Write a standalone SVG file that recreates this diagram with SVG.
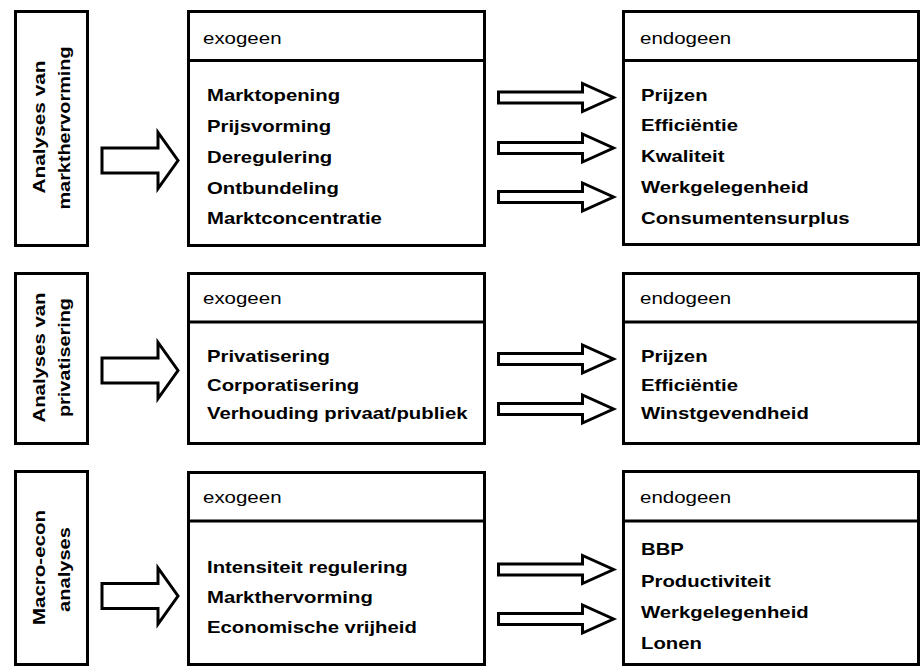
<svg xmlns="http://www.w3.org/2000/svg" width="923" height="668" viewBox="0 0 923 668">
<style>
.box{fill:#fff;stroke:#000;stroke-width:3}
.div{stroke:#000;stroke-width:3}
.arr{fill:#fff;stroke:#000;stroke-width:3;stroke-linejoin:miter}
.h{font-family:"Liberation Sans",Arial,Helvetica,sans-serif;font-size:16px;fill:#000}
.b{font-family:"Liberation Sans",Arial,Helvetica,sans-serif;font-size:16px;font-weight:bold;fill:#000}
.v{font-family:"Liberation Sans",Arial,Helvetica,sans-serif;font-size:17px;font-weight:bold;fill:#000;text-anchor:middle}
</style>
<rect width="923" height="668" fill="#fff"/>

<!-- Row 1 -->
<g id="row1-label">
<rect class="box" x="15.5" y="11.5" width="72" height="234"/>
<text class="v" transform="translate(45,127) rotate(-90)" textLength="133" lengthAdjust="spacingAndGlyphs">Analyses van</text>
<text class="v" transform="translate(70,128) rotate(-90)" textLength="163" lengthAdjust="spacingAndGlyphs">markthervorming</text>
</g>
<g id="row1-exo">
<rect class="box" x="188.5" y="11.5" width="296" height="234"/>
<line class="div" x1="188.5" y1="60.5" x2="484.5" y2="60.5"/>
<text class="h" transform="translate(203,43.5) scale(1.28,1)">exogeen</text>
<text class="b" transform="translate(207,100.5) scale(1.27,1)">Marktopening</text>
<text class="b" transform="translate(207,131.5) scale(1.27,1)">Prijsvorming</text>
<text class="b" transform="translate(207,162.5) scale(1.27,1)">Deregulering</text>
<text class="b" transform="translate(207,193.5) scale(1.27,1)">Ontbundeling</text>
<text class="b" transform="translate(207,224) scale(1.27,1)">Marktconcentratie</text>
</g>
<g id="row1-endo">
<rect class="box" x="623.5" y="11.5" width="295" height="233"/>
<line class="div" x1="623.5" y1="60.5" x2="918.5" y2="60.5"/>
<text class="h" transform="translate(640,43.5) scale(1.28,1)">endogeen</text>
<text class="b" transform="translate(641,100.5) scale(1.27,1)">Prijzen</text>
<text class="b" transform="translate(641,131) scale(1.27,1)">Efficiëntie</text>
<text class="b" transform="translate(641,162) scale(1.27,1)">Kwaliteit</text>
<text class="b" transform="translate(641,193) scale(1.27,1)">Werkgelegenheid</text>
<text class="b" transform="translate(641,223.5) scale(1.27,1)">Consumentensurplus</text>
</g>

<!-- Row 2 -->
<g id="row2-label">
<rect class="box" x="15.5" y="273.5" width="72" height="170"/>
<text class="v" transform="translate(45,357.5) rotate(-90)" textLength="130" lengthAdjust="spacingAndGlyphs">Analyses van</text>
<text class="v" transform="translate(70,357.5) rotate(-90)" textLength="119" lengthAdjust="spacingAndGlyphs">privatisering</text>
</g>
<g id="row2-exo">
<rect class="box" x="188.5" y="273.5" width="296" height="170"/>
<line class="div" x1="188.5" y1="322" x2="484.5" y2="322"/>
<text class="h" transform="translate(203,303.5) scale(1.28,1)">exogeen</text>
<text class="b" transform="translate(207,362) scale(1.27,1)">Privatisering</text>
<text class="b" transform="translate(207,390.5) scale(1.27,1)">Corporatisering</text>
<text class="b" transform="translate(207,419) scale(1.27,1)">Verhouding privaat/publiek</text>
</g>
<g id="row2-endo">
<rect class="box" x="623.5" y="273.5" width="295" height="170"/>
<line class="div" x1="623.5" y1="322" x2="918.5" y2="322"/>
<text class="h" transform="translate(640,303.5) scale(1.28,1)">endogeen</text>
<text class="b" transform="translate(641,362) scale(1.27,1)">Prijzen</text>
<text class="b" transform="translate(641,390.5) scale(1.27,1)">Efficiëntie</text>
<text class="b" transform="translate(641,419) scale(1.27,1)">Winstgevendheid</text>
</g>

<!-- Row 3 -->
<g id="row3-label">
<rect class="box" x="15.5" y="471.5" width="72" height="193"/>
<text class="v" transform="translate(45,567.5) rotate(-90)" textLength="115" lengthAdjust="spacingAndGlyphs">Macro-econ</text>
<text class="v" transform="translate(70,569.5) rotate(-90)" textLength="85" lengthAdjust="spacingAndGlyphs">analyses</text>
</g>
<g id="row3-exo">
<rect class="box" x="188.5" y="472.5" width="296" height="192"/>
<line class="div" x1="188.5" y1="521" x2="484.5" y2="521"/>
<text class="h" transform="translate(203,503) scale(1.28,1)">exogeen</text>
<text class="b" transform="translate(207,573) scale(1.27,1)">Intensiteit regulering</text>
<text class="b" transform="translate(207,603) scale(1.27,1)">Markthervorming</text>
<text class="b" transform="translate(207,633) scale(1.27,1)">Economische vrijheid</text>
</g>
<g id="row3-endo">
<rect class="box" x="623.5" y="471.5" width="295" height="193"/>
<line class="div" x1="623.5" y1="521" x2="918.5" y2="521"/>
<text class="h" transform="translate(640,503) scale(1.28,1)">endogeen</text>
<text class="b" transform="translate(641,555) scale(1.27,1)">BBP</text>
<text class="b" transform="translate(641,586.5) scale(1.27,1)">Productiviteit</text>
<text class="b" transform="translate(641,618) scale(1.27,1)">Werkgelegenheid</text>
<text class="b" transform="translate(641,649) scale(1.27,1)">Lonen</text>
</g>

<!-- Connectors -->
<defs>
<polygon id="bigArrow" points="0,-12.5 56,-12.5 56,-28 76,0 56,28 56,12.5 0,12.5"/>
<polygon id="smallArrow" points="0,-5.5 84,-5.5 84,-14 115,0 84,14 84,5.5 0,5.5"/>
</defs>
<g id="connectors">
<use href="#bigArrow" class="arr" x="102" y="160.5"/>
<use href="#bigArrow" class="arr" x="102" y="370.5"/>
<use href="#bigArrow" class="arr" x="102" y="596"/>
<use href="#smallArrow" class="arr" x="498.5" y="97.5"/>
<use href="#smallArrow" class="arr" x="498.5" y="148"/>
<use href="#smallArrow" class="arr" x="498.5" y="197"/>
<use href="#smallArrow" class="arr" x="498.5" y="359"/>
<use href="#smallArrow" class="arr" x="498.5" y="409"/>
<use href="#smallArrow" class="arr" x="498.5" y="569.5"/>
<use href="#smallArrow" class="arr" x="498.5" y="619"/>
</g>
</svg>
